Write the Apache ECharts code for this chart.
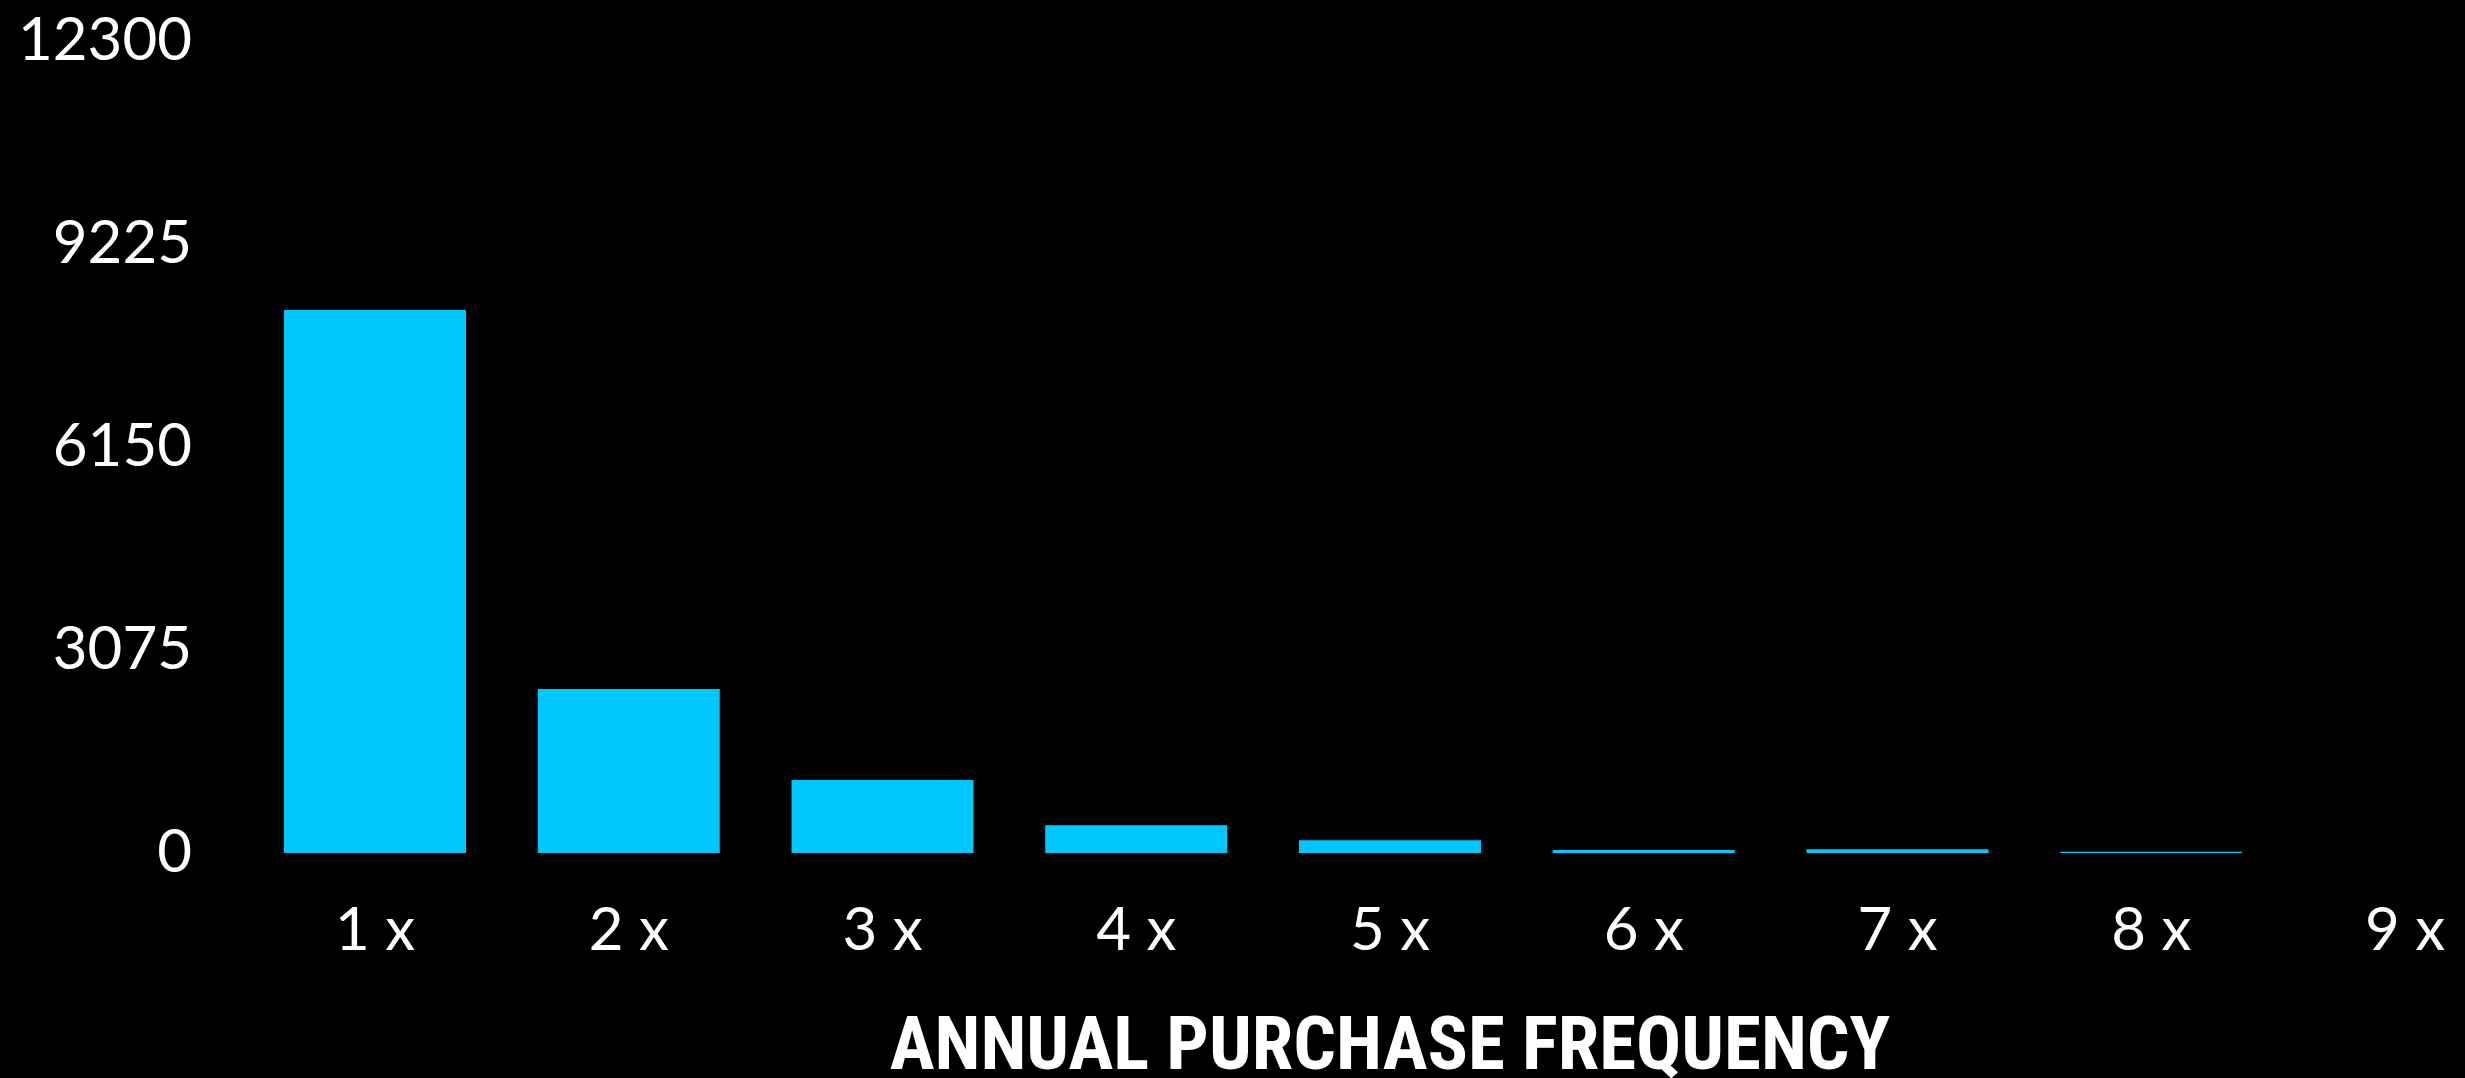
<!DOCTYPE html>
<html>
<head>
<meta charset="utf-8">
<script src="https://cdn.jsdelivr.net/npm/echarts@6/dist/echarts.min.js"></script>
<style>
html,body{margin:0;padding:0;background:#000;}
#chart{width:2465px;height:1078px;}
</style>
</head>
<body>
<div id="chart"></div>
<script>
const categories = ['1 x','2 x','3 x','4 x','5 x','6 x','7 x','8 x','9 x'];
const values = [8225, 2484, 1106, 419, 192, 45, 58, 20, 0];
const yTicks = [0, 3075, 6150, 9225, 12300];
const xAxisTitle = 'ANNUAL PURCHASE FREQUENCY';

const chart = echarts.init(document.getElementById('chart'));
chart.setOption({
  backgroundColor: '#000000',
  animation: false,
  grid: { left: 375, top: 41, right: 2465 - 2405, bottom: 1078 - 853, containLabel: false, outerBoundsMode: 'none' },
  xAxis: {
    type: 'category',
    data: categories,
    boundaryGap: false,
    axisLine: { show: false },
    axisTick: { show: false },
    axisLabel: { color: '#ffffff', fontSize: 60, fontFamily: 'Lato, "Open Sans", sans-serif', margin: 48 },
    name: xAxisTitle,
    nameLocation: 'middle',
    nameGap: 160,
    nameTextStyle: { color: '#ffffff', fontSize: 75, fontWeight: 'bold', fontFamily: '"Roboto Condensed", Roboto, sans-serif' }
  },
  yAxis: {
    type: 'value',
    min: yTicks[0],
    max: yTicks[yTicks.length - 1],
    interval: yTicks[1] - yTicks[0],
    splitLine: { show: false },
    axisLine: { show: false },
    axisTick: { show: false },
    axisLabel: {
      color: '#ffffff', fontSize: 60, fontFamily: 'Lato, "Open Sans", sans-serif', margin: 183,
      formatter: function (v) { return String(v); }
    }
  },
  series: [{
    type: 'bar',
    data: values,
    barWidth: 182,
    itemStyle: { color: '#00C8FF' }
  }]
});
</script>
</body>
</html>
